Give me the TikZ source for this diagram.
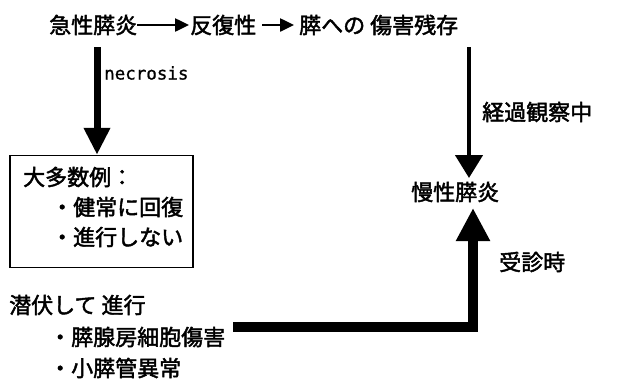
\documentclass[tikz,border=0pt]{standalone}
\usepackage{fontspec}
\setmainfont{Noto Sans CJK JP}[FakeBold=2.0]
\newfontfamily\monofont{DejaVu Sans Mono}[FakeBold=1.0]
\usetikzlibrary{arrows.meta,calc}
\begin{document}
\begin{tikzpicture}[x=1pt,y=-1pt,
  lbl/.style={anchor=west,inner sep=0pt,font=\fontsize{22}{25}\selectfont},
  thinarrow/.style={line width=2.5pt,-{Triangle[length=14pt,width=13pt]}},
  boxstyle/.style={draw,line width=1.4pt,inner sep=0pt}]
\useasboundingbox (0,0) rectangle (617,389);
% top row
\node[lbl] (acute) at (49,25) {急性膵炎};
\node[lbl] (recur) at (190,25) {反復性};
\node[lbl] (damage) at (299,25) {膵への\hspace{5pt}傷害残存};
\draw[thinarrow] (acute.east) -- ([xshift=-1pt]recur.west);
\draw[thinarrow] ([xshift=6pt]recur.east) -- ([xshift=-5pt]damage.west);
% box
\node[boxstyle,minimum width=183pt,minimum height=112pt] (box) at (101.5,211.5) {};
\node[lbl] (most) at (23,177) {大多数例：};
\node[lbl] (heal) at (51,207) {・健常に回復};
\node[lbl] (noprog) at (51,237) {・進行しない};
% left arrow
\coordinate (ls) at (97,47);
\draw[line width=7pt,-{Triangle[length=27pt,width=25pt]}] (ls) -- (ls |- box.north);
\node[anchor=west,inner sep=0pt,font=\monofont\fontsize{17.5}{20}\selectfont] (necro) at (104,73) {necrosis};
% chronic
\node[lbl] (chronic) at (411,192) {慢性膵炎};
\coordinate (rs) at (469,47);
\draw[line width=4.5pt,-{Triangle[length=23pt,width=27pt]}] (rs) -- (469,178);
\node[lbl] (obs) at (482,112) {経過観察中};
% latent
\node[lbl] (latent) at (9,305) {潜伏して\hspace{5pt}進行};
\node[lbl] (acinar) at (49,337) {・膵腺房細胞傷害};
\node[lbl] (duct) at (49,368) {・小膵管異常};
\coordinate (hs) at (233,327);
\draw[line width=9.5pt,line join=miter,-{Triangle[length=33pt,width=32pt]}] (hs) -- (473,327) -- (473,208);
\node[lbl] (visit) at (499,262) {受診時};
\end{tikzpicture}
\end{document}
